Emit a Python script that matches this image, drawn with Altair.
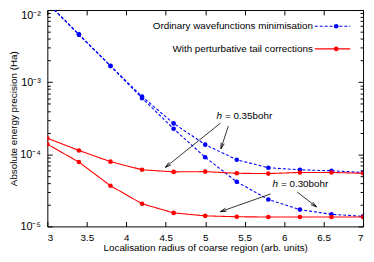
import math
import altair as alt
import pandas as pd

# ---------------- data ----------------
x_vals = [3.0, 3.4, 3.8, 4.2, 4.6, 5.0, 5.4, 5.8, 6.2, 6.6, 7.0]
ordinary_h035 = [1.27e-2, 4.6e-3, 1.69e-3, 6.3e-4, 2.68e-4, 1.36e-4, 8.4e-5, 6.5e-5, 6.1e-5, 5.9e-5, 5.6e-5]
ordinary_h030 = [1.25e-2, 4.55e-3, 1.67e-3, 6.0e-4, 2.26e-4, 9.1e-5, 4.15e-5, 2.36e-5, 1.71e-5, 1.47e-5, 1.38e-5]
tail_h035 = [1.67e-4, 1.13e-4, 7.9e-5, 6.1e-5, 5.7e-5, 5.75e-5, 5.45e-5, 5.4e-5, 5.6e-5, 5.6e-5, 5.45e-5]
tail_h030 = [1.38e-4, 7.8e-5, 3.66e-5, 2.06e-5, 1.54e-5, 1.40e-5, 1.36e-5, 1.35e-5, 1.35e-5, 1.35e-5, 1.35e-5]

methods = ["Ordinary wavefunctions minimisation", "With perturbative tail corrections"]
spacings = ["0.35bohr", "0.30bohr"]

x_ticks = [3, 3.5, 4, 4.5, 5, 5.5, 6, 6.5, 7]
y_major = [1e-5, 1e-4, 1e-3, 1e-2]
y_major_labels = ["10⁻⁵", "10⁻⁴", "10⁻³", "10⁻²"]
y_minor = [m * 10.0 ** e for e in (-5, -4, -3) for m in range(2, 10)]

x_title = "Localisation radius of coarse region (arb. units)"
y_title = "Absolute energy precision (Ha)"

# annotations (data coordinates)
ann_h = ["h", "h"]
ann_rest = ["= 0.35bohr", "= 0.30bohr"]
ann_h_x = [5.143, 5.854]
ann_rest_x = [5.250, 5.960]
ann_y = [3.37e-4, 3.86e-5]
arrow_x1 = [5.193, 5.293, 5.829, 6.165]
arrow_y1 = [2.70e-4, 2.46e-4, 2.82e-5, 3.00e-5]
arrow_x2 = [4.495, 5.199, 5.193, 6.411]
arrow_y2 = [6.58e-5, 1.19e-4, 1.60e-5, 1.86e-5]

# ---------------- layout / style ----------------
W, H = 321, 220
FONT = "Liberation Sans"
BLUE, RED = "#0000ff", "#ff0000"
LEG_TEXT_X, LEG_X1, LEG_PT_X, LEG_X2 = 6.364, 6.389, 6.660, 6.838
LEG_Y = [5.96e-3, 2.89e-3]

rows = []
for method, h, vals in [
    (methods[0], spacings[0], ordinary_h035),
    (methods[0], spacings[1], ordinary_h030),
    (methods[1], spacings[0], tail_h035),
    (methods[1], spacings[1], tail_h030),
]:
    for xv, yv in zip(x_vals, vals):
        rows.append({"x": xv, "y": yv, "method": method, "h": h})
df = pd.DataFrame(rows)


def px(x):
    return (x - 3) / 4 * W


def py(y):
    return (-2 - math.log10(y)) / 3 * H


arrows = pd.DataFrame({"x": arrow_x1, "y": arrow_y1, "x2": arrow_x2, "y2": arrow_y2})
arrows["angle"] = [
    math.degrees(math.atan2(px(b) - px(a), -(py(d) - py(c)))) % 360
    for a, b, c, d in zip(arrow_x1, arrow_x2, arrow_y1, arrow_y2)
]
ann = pd.DataFrame({"h": ann_h, "rest": ann_rest, "hx": ann_h_x, "rx": ann_rest_x, "y": ann_y})
leg = pd.DataFrame({
    "method": methods, "y": LEG_Y,
    "tx": [LEG_TEXT_X] * 2, "x1": [LEG_X1] * 2, "x2": [LEG_X2] * 2, "pxx": [LEG_PT_X] * 2,
})

xs = alt.Scale(domain=[3, 7], nice=False, zero=False)
ys = alt.Scale(type="log", domain=[1e-5, 1e-2], nice=False)
cs = alt.Scale(domain=methods, range=[BLUE, RED])
ds = alt.Scale(domain=methods, range=[[3, 2], [1, 0]])

label_expr = "'" + y_major_labels[-1] + "'"
for v, lab in reversed(list(zip(y_major[:-1], y_major_labels[:-1]))):
    label_expr = f"datum.value < {v * 3} ? '{lab}' : " + label_expr

tick_common = dict(domain=False, grid=False, tickColor="black", tickWidth=1)

x_main = alt.Axis(values=x_ticks, format="~g", orient="bottom", offset=-5, tickSize=5,
                  labelPadding=6, title=x_title, titlePadding=1, **tick_common)
y_main = alt.Axis(values=y_major[:-1], labelExpr=label_expr, orient="left", offset=-5, tickSize=5,
                  labelPadding=7, labelFontSize=11, title=y_title, titlePadding=1, **tick_common)
y_top_label = alt.Axis(values=[y_major[-1]], labelExpr=label_expr, orient="left", offset=-5, tickSize=5,
                       labelPadding=7, labelFontSize=11, labelBaseline="top", title=None, **tick_common)
y_left_minor = alt.Axis(values=y_minor, labels=False, orient="left", offset=-3, tickSize=3,
                        title=None, **tick_common)
y_right_major = alt.Axis(values=y_major, labels=False, orient="right", offset=-5, tickSize=5,
                         title=None, **tick_common)
y_right_minor = alt.Axis(values=y_minor, labels=False, orient="right", offset=-3, tickSize=3,
                         title=None, **tick_common)
x_top = alt.Axis(values=x_ticks, labels=False, orient="top", offset=-5, tickSize=5,
                 title=None, **tick_common)


def axis_layer(xaxis, yaxis):
    return alt.Chart(df).mark_point(opacity=0).encode(
        x=alt.X("x:Q", scale=xs, axis=xaxis),
        y=alt.Y("y:Q", scale=ys, axis=yaxis),
    )


lines = alt.Chart(df).mark_line(clip=True, strokeWidth=1.1).encode(
    x=alt.X("x:Q", scale=xs, axis=x_main),
    y=alt.Y("y:Q", scale=ys, axis=y_main),
    color=alt.Color("method:N", scale=cs, legend=None),
    strokeDash=alt.StrokeDash("method:N", scale=ds, legend=None),
    detail="h:N",
)
points = alt.Chart(df).mark_point(clip=True, filled=True, size=22, opacity=1).encode(
    x=alt.X("x:Q", scale=xs, axis=None),
    y=alt.Y("y:Q", scale=ys, axis=None),
    color=alt.Color("method:N", scale=cs, legend=None),
)

arrow_lines = alt.Chart(arrows).mark_rule(color="black", strokeWidth=0.8).encode(
    x=alt.X("x:Q", scale=xs, axis=None), y=alt.Y("y:Q", scale=ys, axis=None),
    x2="x2:Q", y2="y2:Q",
)
arrow_heads = alt.Chart(arrows).mark_point(
    shape="M-0.27,1L0,0L0.27,1", size=144, filled=False, color="black", strokeWidth=0.8, opacity=1
).encode(
    x=alt.X("x2:Q", scale=xs, axis=None), y=alt.Y("y2:Q", scale=ys, axis=None),
    angle=alt.Angle("angle:Q", scale=None),
)
ann_h_text = alt.Chart(ann).mark_text(font=FONT, fontSize=10, fontStyle="italic", align="left",
                                      baseline="middle", color="black").encode(
    x=alt.X("hx:Q", scale=xs, axis=None), y=alt.Y("y:Q", scale=ys, axis=None), text="h:N")
ann_rest_text = alt.Chart(ann).mark_text(font=FONT, fontSize=10, align="left",
                                         baseline="middle", color="black").encode(
    x=alt.X("rx:Q", scale=xs, axis=None), y=alt.Y("y:Q", scale=ys, axis=None), text="rest:N")

leg_text = alt.Chart(leg).mark_text(font=FONT, fontSize=10, align="right", baseline="middle",
                                    color="black").encode(
    x=alt.X("tx:Q", scale=xs, axis=None), y=alt.Y("y:Q", scale=ys, axis=None), text="method:N")
leg_line = alt.Chart(leg).mark_rule(strokeWidth=1.1).encode(
    x=alt.X("x1:Q", scale=xs, axis=None), x2="x2:Q", y=alt.Y("y:Q", scale=ys, axis=None),
    color=alt.Color("method:N", scale=cs, legend=None),
    strokeDash=alt.StrokeDash("method:N", scale=ds, legend=None),
)
leg_pt = alt.Chart(leg).mark_point(filled=True, size=22, opacity=1).encode(
    x=alt.X("pxx:Q", scale=xs, axis=None), y=alt.Y("y:Q", scale=ys, axis=None),
    color=alt.Color("method:N", scale=cs, legend=None),
)

chart = alt.layer(
    lines, points,
    axis_layer(None, y_top_label),
    axis_layer(None, y_left_minor),
    axis_layer(None, y_right_major),
    axis_layer(None, y_right_minor),
    axis_layer(x_top, None),
    arrow_lines, arrow_heads, ann_h_text, ann_rest_text,
    leg_text, leg_line, leg_pt,
).resolve_axis(x="independent", y="independent").properties(
    width=W, height=H,
    autosize=alt.AutoSizeParams(type="none"),
    padding={"left": 40, "top": 0, "right": 3, "bottom": 26},
).configure(font=FONT).configure_axis(
    labelFont=FONT, titleFont=FONT, labelFontSize=10, titleFontSize=10,
    labelColor="black", titleColor="black", titleFontWeight="normal",
).configure_view(stroke="black", strokeWidth=1)

chart.save("out.html", embed_options={"renderer": "svg", "actions": False})
